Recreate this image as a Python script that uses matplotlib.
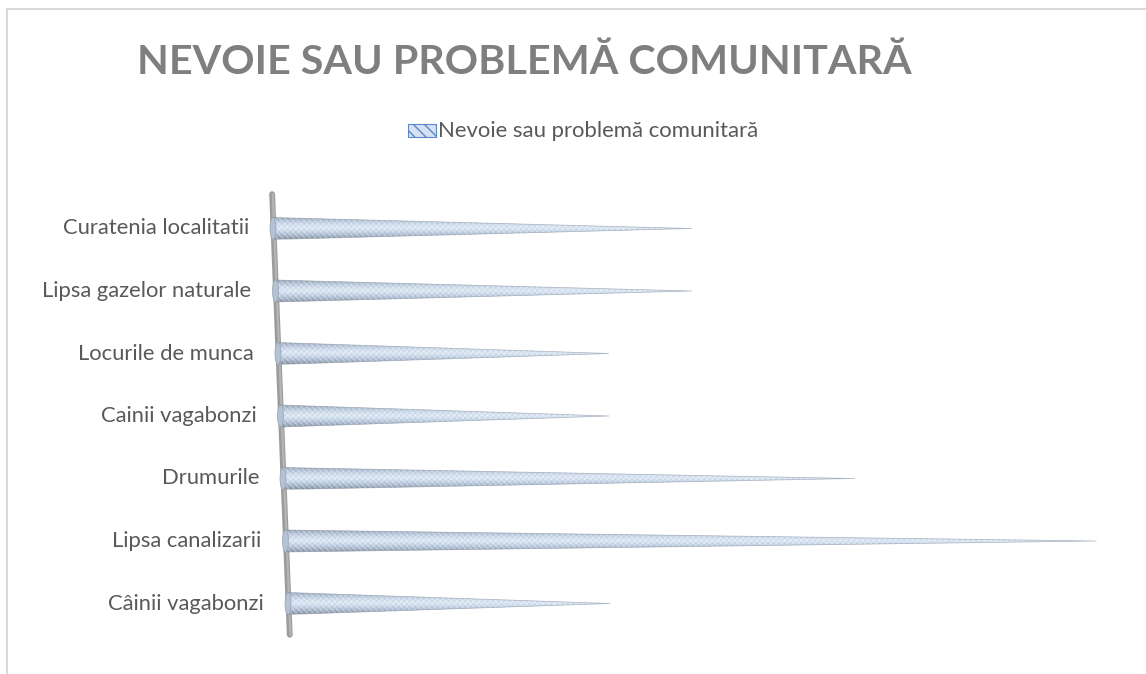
import numpy as np
import matplotlib
matplotlib.use("Agg")
import matplotlib.pyplot as plt
from matplotlib.patches import Polygon, Ellipse, Rectangle
from matplotlib.lines import Line2D
from matplotlib.colors import LinearSegmentedColormap

# ---- data ----
categories = ["Curatenia localitatii", "Lipsa gazelor naturale", "Locurile de munca",
              "Cainii vagabonzi", "Drumurile", "Lipsa canalizarii", "Câinii vagabonzi"]
values = [5, 5, 4, 4, 7, 10, 4]
series_name = "Nevoie sau problemă comunitară"
chart_title = "NEVOIE SAU PROBLEMĂ COMUNITARĂ"

FONT = "Lato"
W, H, DPI = 1146, 674, 100
fig = plt.figure(figsize=(W / DPI, H / DPI), dpi=DPI)
fig.patch.set_facecolor("white")
renderer = fig.canvas.get_renderer()


def fit_width(artist, target_px):
    """Scale an artist's font size so that its rendered width is target_px."""
    w = artist.get_window_extent(renderer).width
    artist.set_fontsize(artist.get_fontsize() * target_px / w)


# ---- plot area: value units along x, category rows along y ----
UNIT = 81.1     # px per value unit on the front row
ROW = 62.5      # px between rows
X0, Y0 = 273, 228.5
SKEW = 2.5 / UNIT     # the 3-D wall leans to the right going down
DEPTH = 0.0067        # rows further back appear slightly longer
HALF = 11 / ROW       # half thickness of a cone base

ax = fig.add_axes([0, 0, 1, 1])
ax.axis("off")
XLIM = (-X0 / UNIT, (W - X0) / UNIT)
YLIM = ((H - Y0) / ROW, -Y0 / ROW)

n = len(categories)
cone_cmap = LinearSegmentedColormap.from_list(
    "cone", ["#939fae", "#b6c6d9", "#d2dfee", "#e0eaf6", "#c6d5e7", "#a7b6c9", "#858f9c"])

# wall edge
wy = np.array([-0.55, n - 0.5])
ax.add_line(Line2D(SKEW * wy + 0.5 / UNIT, wy, lw=4.2, color="#9b9b9b",
                   solid_capstyle="round", zorder=1))
ax.add_line(Line2D(SKEW * wy + 1.2 / UNIT, wy, lw=1.6, color="#b5b5b5",
                   solid_capstyle="round", zorder=1))

for i, (cat, v) in enumerate(zip(categories, values)):
    x0 = SKEW * i
    length = v * (1 + DEPTH * (n - 2 - i))
    yc = i
    pts = [(x0, yc - HALF), (x0 + length, yc), (x0, yc + HALF)]
    clip = Polygon(pts, closed=True, facecolor="none", edgecolor="none")
    ax.add_patch(clip)
    grad = np.linspace(0, 1, 128)[:, None]
    im = ax.imshow(grad, cmap=cone_cmap, extent=[x0, x0 + length, yc + HALF, yc - HALF],
                   aspect="auto", origin="upper", interpolation="bicubic", zorder=3)
    im.set_clip_path(clip)
    # woven texture
    ax.add_patch(Polygon(pts, closed=True, fill=False, hatch="\\\\\\\\\\\\",
                         edgecolor=(1, 1, 1, 0.35), lw=0, zorder=4))
    ax.add_patch(Polygon(pts, closed=True, fill=False, hatch="//////",
                         edgecolor=(0.5, 0.6, 0.75, 0.15), lw=0, zorder=4))
    ax.add_patch(Polygon(pts, closed=True, fill=False, edgecolor=(0.5, 0.55, 0.62, 0.6),
                         lw=0.5, zorder=5))
    # rounded base cap
    ax.add_patch(Ellipse((x0, yc), width=6 / UNIT, height=2 * HALF, facecolor="#b3c2d5",
                         edgecolor="#98a3b0", lw=0.5, zorder=5))
    ax.text(x0 - 24 / UNIT, yc, cat, ha="right", va="center", fontsize=13,
            color="#595959", family=FONT, zorder=6)

ax.set_xlim(*XLIM)
ax.set_ylim(*YLIM)

# category label size fitted to the longest label
labels = list(ax.texts)
longest = max(labels, key=lambda a: a.get_window_extent(renderer).width)
w0 = longest.get_window_extent(renderer).width
for t in labels:
    t.set_fontsize(t.get_fontsize() * 209 / w0)

# ---- title ----
ttl = fig.text(137 / W, 1 - 74 / H, chart_title, ha="left", va="baseline",
               fontsize=32, fontweight="bold", color="#7f7f7f", family=FONT)
fit_width(ttl, 776)

# ---- legend ----
fig.patches.append(Rectangle((408 / W, 1 - 137 / H), 28 / W, 13 / H, transform=fig.transFigure,
                             facecolor="#d6e2f2", edgecolor="#5b87c7", hatch="\\\\\\",
                             lw=0.8, figure=fig))
leg = fig.text(438 / W, 1 - 137 / H, series_name, ha="left", va="baseline",
               fontsize=14, color="#595959", family=FONT)
fit_width(leg, 322)

# ---- chart border ----
fig.lines.append(Line2D([7 / W, 1], [1 - 8.5 / H, 1 - 8.5 / H], transform=fig.transFigure,
                        color="#d9d9d9", lw=1.5, figure=fig))
fig.lines.append(Line2D([7 / W, 7 / W], [0, 1 - 8.5 / H], transform=fig.transFigure,
                        color="#d9d9d9", lw=1.5, figure=fig))

fig.savefig("out.png", dpi=DPI, facecolor="white")
